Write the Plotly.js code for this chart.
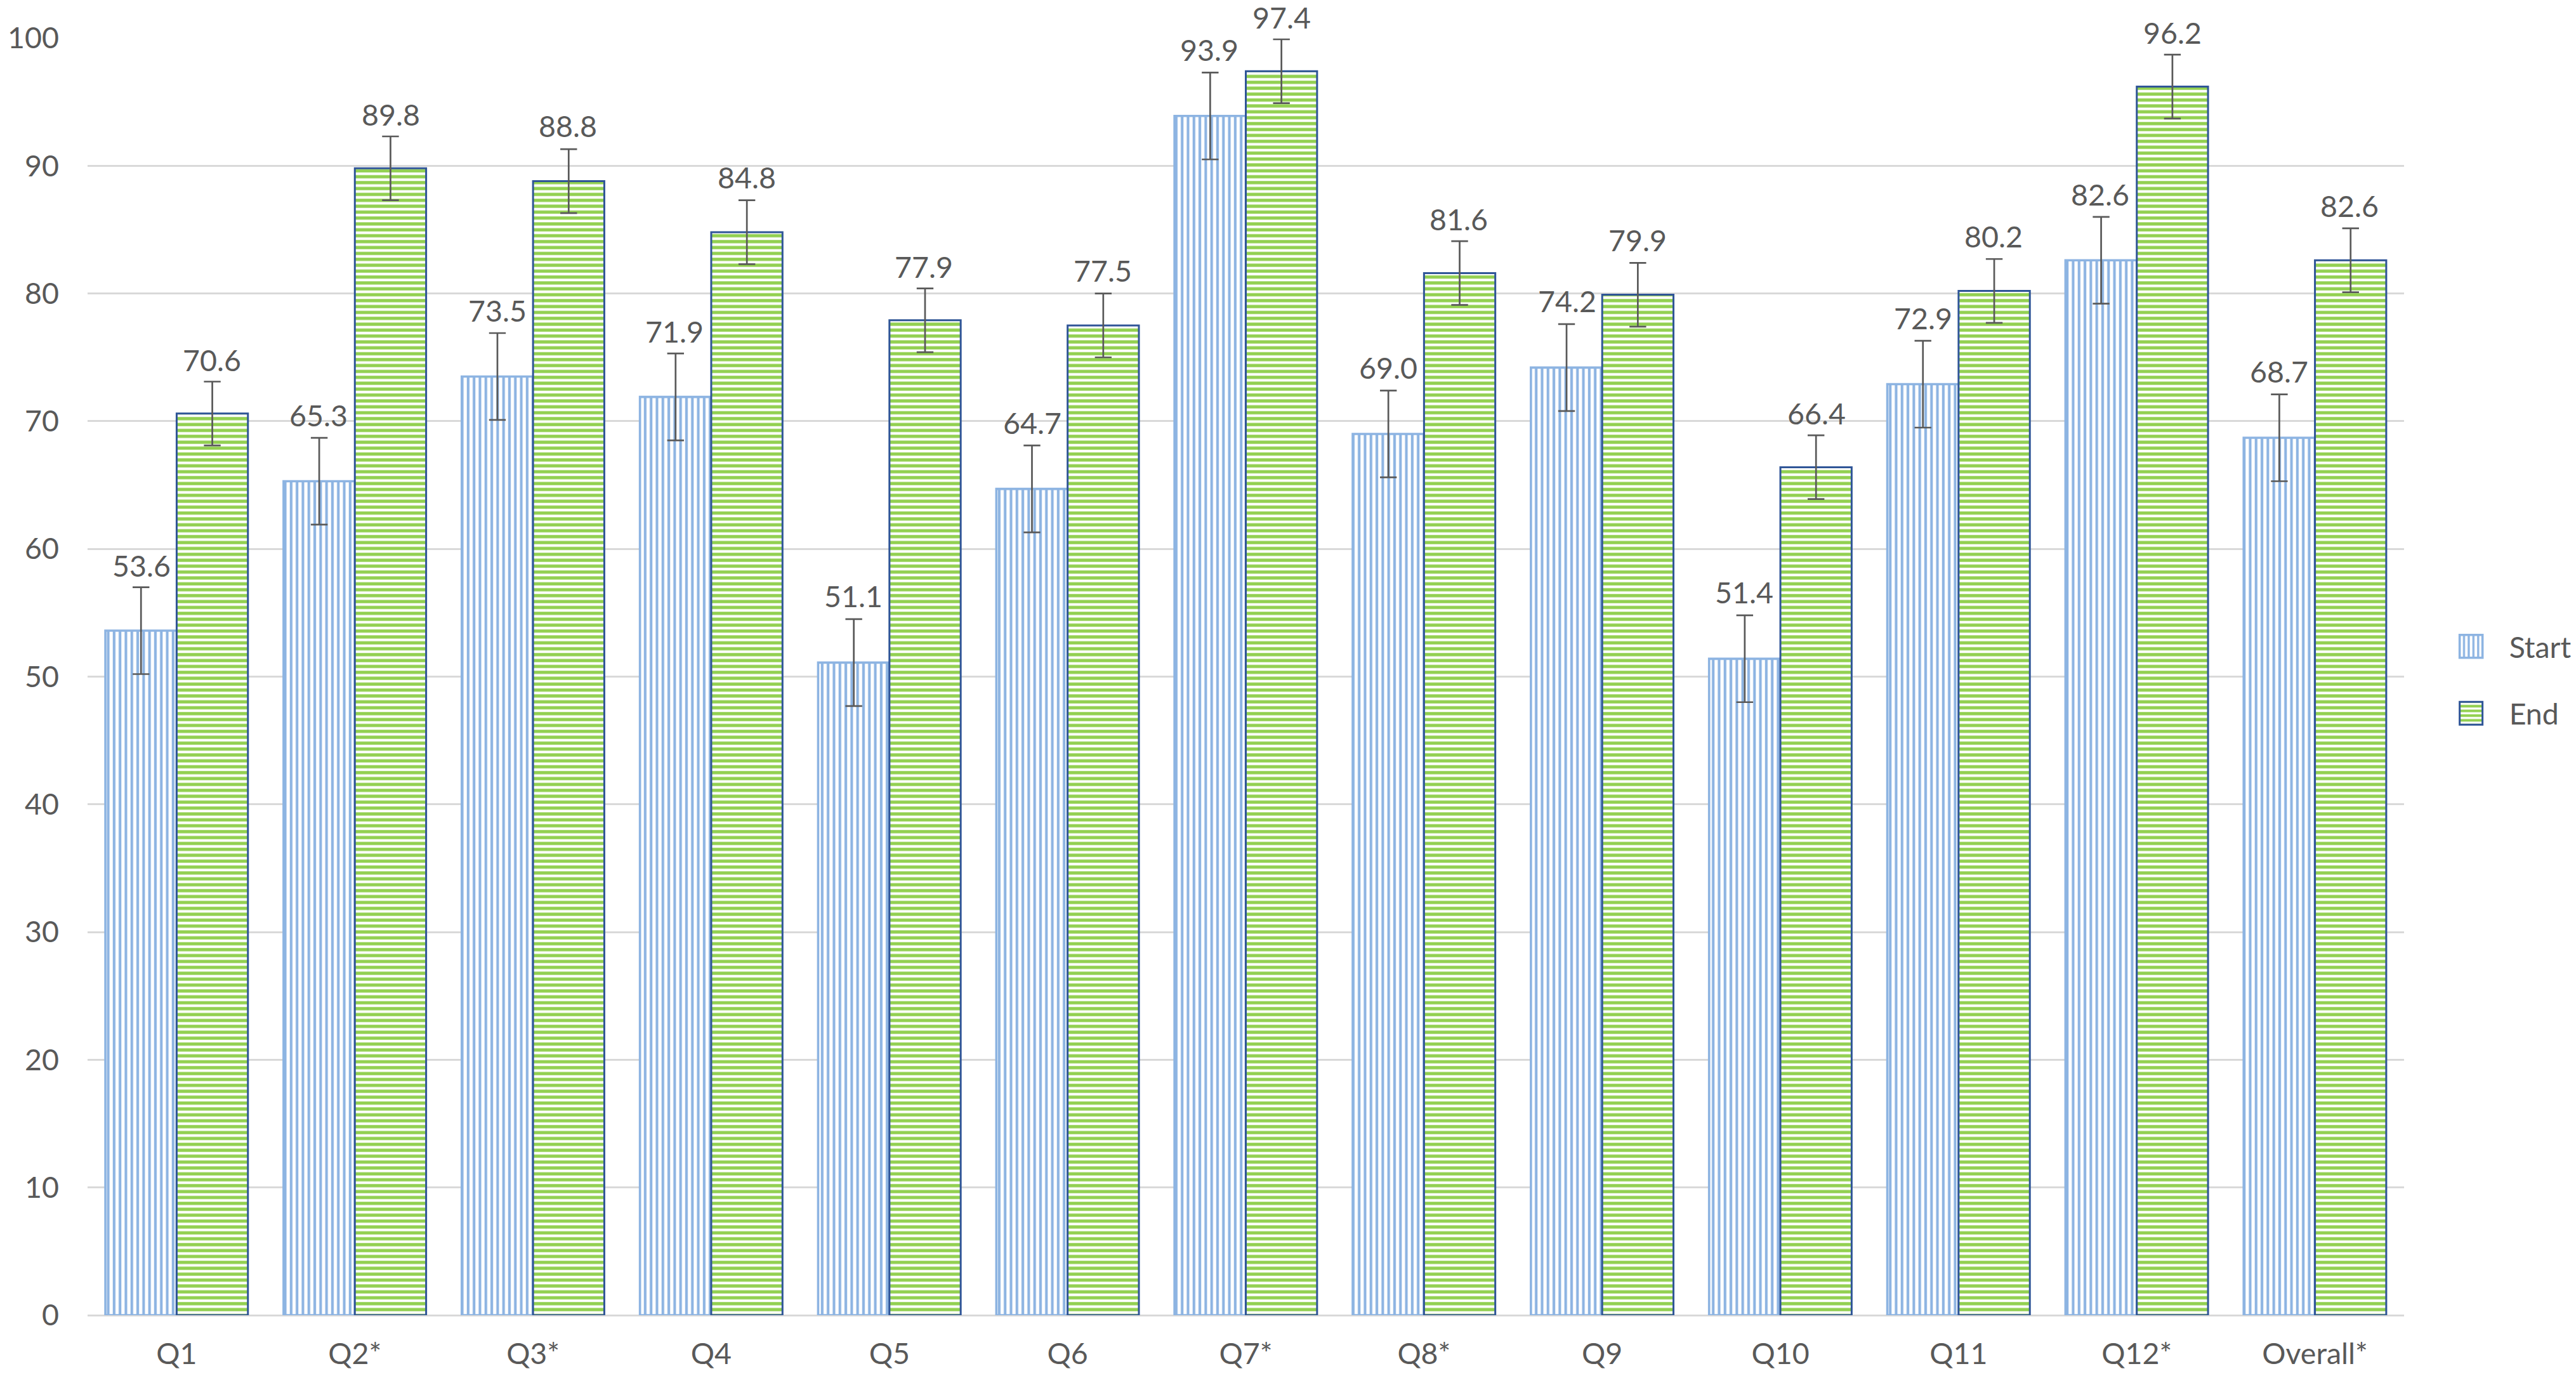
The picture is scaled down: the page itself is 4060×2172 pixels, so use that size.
<!DOCTYPE html>
<html>
<head>
<meta charset="utf-8">
<script src="https://cdn.plot.ly/plotly-3.0.1.min.js"></script>
<style>
  html, body { margin: 0; padding: 0; background: #ffffff; overflow: hidden; }
  #wrap { width: 4060px; height: 2172px; overflow: hidden; }
  #chart { width: 1354px; height: 724px; transform: scale(3); transform-origin: 0 0; }
</style>
</head>
<body>
<div id="wrap"><div id="chart"></div></div>
<script>
const categories = ["Q1", "Q2*", "Q3*", "Q4", "Q5", "Q6", "Q7*", "Q8*", "Q9", "Q10", "Q11", "Q12*", "Overall*"];
const startValues = [53.6, 65.3, 73.5, 71.9, 51.1, 64.7, 93.9, 69.0, 74.2, 51.4, 72.9, 82.6, 68.7];
const endValues   = [70.6, 89.8, 88.8, 84.8, 77.9, 77.5, 97.4, 81.6, 79.9, 66.4, 80.2, 96.2, 82.6];
const startErrors = [3.4, 3.4, 3.4, 3.4, 3.4, 3.4, 3.4, 3.4, 3.4, 3.4, 3.4, 3.4, 3.4];
const endErrors   = [2.5, 2.5, 2.5, 2.5, 2.5, 2.5, 2.5, 2.5, 2.5, 2.5, 2.5, 2.5, 2.5];

const textColor = "#595959";
const fontFamily = "Lato, 'Open Sans', sans-serif";

const traces = [
  {
    type: "bar", name: "Start", x: categories, y: startValues, legendgroup: "s",
    marker: {
      color: "#8DB4E2",
      line: { color: "#8DB4E2", width: 1.2 },
      pattern: { shape: "|", fgcolor: "#8DB4E2", bgcolor: "#ffffff", size: 3.1, solidity: 0.45 }
    },
    error_y: { type: "data", array: startErrors, visible: true, color: "#595959", thickness: 0.9, width: 4.4 }
  },
  {
    type: "bar", name: "End", x: categories, y: endValues, legendgroup: "e",
    marker: {
      color: "#92D050",
      line: { color: "#2F5597", width: 1 },
      pattern: { shape: "-", fgcolor: "#92D050", bgcolor: "#ffffff", size: 3.1, solidity: 0.55 }
    },
    error_y: { type: "data", array: endErrors, visible: true, color: "#595959", thickness: 0.9, width: 4.4 }
  }
];

const annotations = [];
categories.forEach((c, i) => {
  annotations.push({
    x: i - 0.2, y: startValues[i] + startErrors[i], xref: "x", yref: "y",
    text: startValues[i].toFixed(1), showarrow: false, yanchor: "bottom", yshift: 1,
    font: { family: fontFamily, size: 15.5, color: textColor }
  });
  annotations.push({
    x: i + 0.2, y: endValues[i] + endErrors[i], xref: "x", yref: "y",
    text: endValues[i].toFixed(1), showarrow: false, yanchor: "bottom", yshift: 1,
    font: { family: fontFamily, size: 15.5, color: textColor }
  });
});

const layout = {
  width: 1354, height: 724,
  margin: { l: 46, r: 91, t: 20, b: 33, pad: 0, autoexpand: false },
  paper_bgcolor: "#ffffff", plot_bgcolor: "#ffffff",
  font: { family: fontFamily, size: 15.5, color: textColor },
  barmode: "group", bargap: 0.2, bargroupgap: 0,
  showlegend: true,
  legend: {
    x: 1.0125, y: 0.497, xanchor: "left", yanchor: "middle",
    traceorder: "grouped", tracegroupgap: 12,
    font: { family: fontFamily, size: 15.5, color: textColor },
    bgcolor: "rgba(0,0,0,0)"
  },
  xaxis: {
    type: "category", showgrid: false, showline: false, zeroline: false, ticks: "",
    ticklabelstandoff: 9, automargin: false,
    tickfont: { family: fontFamily, size: 15.5, color: textColor }
  },
  yaxis: {
    range: [0, 100], tick0: 0, dtick: 10, showgrid: true, gridcolor: "#D9D9D9", gridwidth: 1,
    zeroline: true, zerolinecolor: "#D9D9D9", zerolinewidth: 1, automargin: false,
    showline: false, ticks: "", ticklabelstandoff: 14,
    tickfont: { family: fontFamily, size: 15.5, color: textColor }
  },
  annotations: annotations,
  hovermode: false
};

Plotly.newPlot("chart", traces, layout, { staticPlot: true, displayModeBar: false });
</script>
</body>
</html>
